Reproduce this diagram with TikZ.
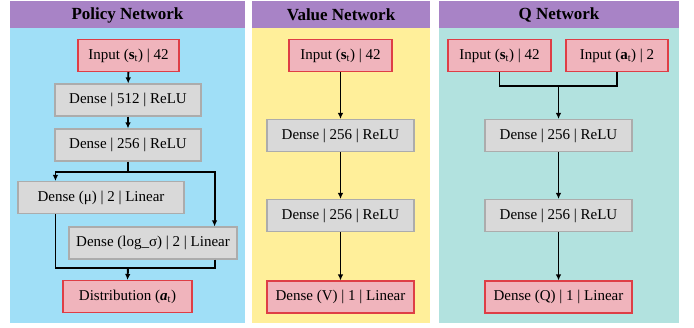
\documentclass[tikz,border=0pt]{standalone}
\usepackage{fontspec}
\setmainfont{Liberation Serif}
\usetikzlibrary{arrows.meta}
\definecolor{titlepurple}{RGB}{168,131,198}
\definecolor{polbg}{RGB}{160,223,247}
\definecolor{valbg}{RGB}{255,239,154}
\definecolor{qbg}{RGB}{178,226,223}
\definecolor{pinkfill}{RGB}{240,180,188}
\definecolor{pinkline}{RGB}{222,62,70}
\definecolor{grayfill}{RGB}{217,217,217}
\definecolor{grayline}{RGB}{172,172,172}
\tikzset{
  layer/.style={draw, line width=1.1pt, inner sep=0pt, minimum height=32pt,
    font=\fontsize{15}{17}\selectfont},
  graybox/.style={layer, fill=grayfill, draw=grayline},
  pinkbox/.style={layer, fill=pinkfill, draw=pinkline},
  titletext/.style={font=\fontsize{17}{19}\selectfont\bfseries},
  conn/.style={line width=1.9pt, black},
  arr/.style={conn, -{Latex[length=6pt,width=5.5pt]}},
}
\begin{document}
\begin{tikzpicture}[x=1pt,y=-1pt]
\useasboundingbox[fill=white] (0,0) rectangle (694,328);
% panels
\fill[titlepurple] (10,1) rectangle (245,28);
\fill[polbg] (10,28) rectangle (245,323);
\fill[titlepurple] (252,1) rectangle (430,28);
\fill[valbg] (252,28) rectangle (430,323);
\fill[titlepurple] (439,1) rectangle (679,28);
\fill[qbg] (439,28) rectangle (679,323);
\node[titletext] (tp) at (127.5,15) {Policy Network};
\node[titletext] (tv) at (341,15) {Value Network};
\node[titletext] (tq) at (559,15) {Q Network};
% policy network
\node[pinkbox, minimum width=101pt] (pin) at (128.5,55.5) {Input (\textbf{s}\textsubscript{t}) | 42};
\node[graybox, minimum width=146pt] (p1) at (128,100) {Dense | 512 | ReLU};
\node[graybox, minimum width=146pt] (p2) at (128,145) {Dense | 256 | ReLU};
\node[graybox, minimum width=166pt] (pmu) at (101,197.5) {Dense (μ) | 2 | Linear};
\node[graybox, minimum width=168pt] (psig) at (153,243) {Dense (log\_σ) | 2 | Linear};
\node[pinkbox, minimum width=129pt] (pdist) at (127.5,296.5) {Distribution (\textbf{\textit{a}}\textsubscript{t})};
\draw[arr] (pin) -- (p1);
\draw[arr] (p1) -- (p2);
\coordinate (pf) at (128,172);
\coordinate (pm) at (128,268);
\draw[conn] (p2.south) -- (pf);
\draw[arr] (pf) -| ([xshift=38pt]pmu.north west);
\draw[arr] (pf) -| ([xshift=-23pt]psig.north east);
\draw[conn] ([xshift=38pt]pmu.south west) |- (pm);
\draw[conn] ([xshift=-23pt]psig.south east) |- (pm);
\draw[arr] (pm) -- (pdist.north);
% value network
\node[pinkbox, minimum width=103pt] (vin) at (340.5,55.5) {Input (\textbf{s}\textsubscript{t}) | 42};
\node[graybox, minimum width=147pt] (v1) at (340.5,135.5) {Dense | 256 | ReLU};
\node[graybox, minimum width=147pt] (v2) at (340.5,215.5) {Dense | 256 | ReLU};
\node[pinkbox, minimum width=147pt] (vout) at (340.5,297) {Dense (V) | 1 | Linear};
\draw[arr] (vin) -- (v1);
\draw[arr] (v1) -- (v2);
\draw[arr] (v2) -- (vout);
% q network
\node[pinkbox, minimum width=103pt] (qs) at (499.5,55.5) {Input (\textbf{s}\textsubscript{t}) | 42};
\node[pinkbox, minimum width=102pt] (qa) at (617,55.5) {Input (\textbf{a}\textsubscript{t}) | 2};
\node[graybox, minimum width=147pt] (q1) at (558.5,135.5) {Dense | 256 | ReLU};
\node[graybox, minimum width=147pt] (q2) at (558.5,215.5) {Dense | 256 | ReLU};
\node[pinkbox, minimum width=147pt] (qout) at (558.5,297) {Dense (Q) | 1 | Linear};
\coordinate (qm) at (558.5,86);
\draw[conn] (qs.south) |- (qm);
\draw[conn] (qa.south) |- (qm);
\draw[arr] (qm) -- (q1.north);
\draw[arr] (q1) -- (q2);
\draw[arr] (q2) -- (qout);
\end{tikzpicture}
\end{document}
